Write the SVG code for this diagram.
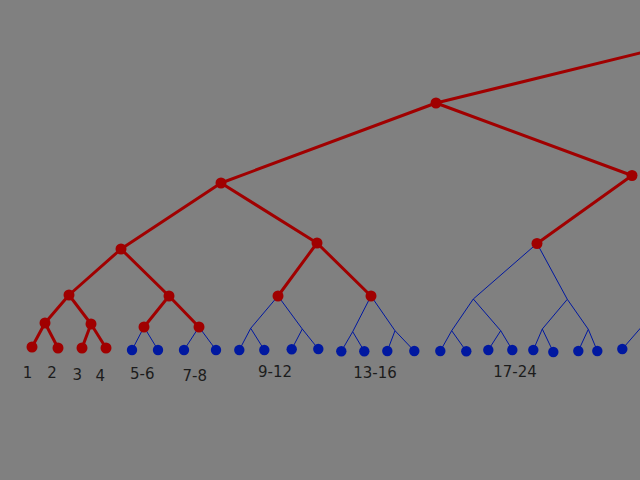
<svg xmlns="http://www.w3.org/2000/svg" width="640" height="480" viewBox="0 0 640 480">
<style>
.bg{fill:#808080}
.r{stroke:#a00000;stroke-width:3;fill:none;stroke-linecap:round}
.b{stroke:#0018a0;stroke-width:1;fill:none}
.rn{fill:#a00000}
.bn{fill:#0018a0}
text{font-family:"DejaVu Sans",Verdana,sans-serif;font-size:15px;fill:#1c1c1c;text-anchor:middle}
</style>
<rect class="bg" x="0" y="0" width="640" height="480"/>
<g id="connectors">
<path class="r" d="M436,103 L642,52.5 M436,103 L221,183 M436,103 L632,175.5 M632,175.5 L537,243.5 M221,183 L121,249 M221,183 L317,243 M121,249 L69,295 M121,249 L169,296 M317,243 L278,296 M317,243 L371,296 M69,295 L45,323 M69,295 L91,324 M45,323 L32,347 M45,323 L58,348 M91,324 L82,348 M91,324 L106,348 M169,296 L144,327 M169,296 L199,327"/>
<path class="b" d="M144,327 L132,350 M144,327 L158,350 M199,327 L184,350 M199,327 L216,350 M278,296 L250.7,328.3 M278,296 L302.3,329 M250.7,328.3 L239.3,350 M250.7,328.3 L264.3,350 M302.3,329 L291.7,349.3 M302.3,329 L318.3,349 M371,296 L352.7,331.7 M371,296 L395,330.7 M352.7,331.7 L341.3,351.3 M352.7,331.7 L364.3,351.3 M395,330.7 L387.3,351 M395,330.7 L414.3,351 M537,243.5 L473.3,299 M537,243.5 L567.3,299.3 M473.3,299 L451.7,330.7 M473.3,299 L500.7,330.7 M567.3,299.3 L542.3,329 M567.3,299.3 L588.3,329.3 M451.7,330.7 L440.3,351 M451.7,330.7 L466.3,351.3 M500.7,330.7 L488.3,350 M500.7,330.7 L512.3,350 M542.3,329 L533.3,350 M542.3,329 L553.3,352 M588.3,329.3 L578.3,351 M588.3,329.3 L597.3,351 M622.3,349 L641,327.5"/>
</g>
<g id="n-r1"><circle class="rn" cx="436" cy="103" r="5.5"/></g>
<g id="n-r2"><circle class="rn" cx="221" cy="183" r="5.5"/></g>
<g id="n-r3"><circle class="rn" cx="632" cy="175.5" r="5.5"/></g>
<g id="n-r4"><circle class="rn" cx="121" cy="249" r="5.5"/></g>
<g id="n-r5"><circle class="rn" cx="317" cy="243" r="5.5"/></g>
<g id="n-r6"><circle class="rn" cx="537" cy="243.5" r="5.5"/></g>
<g id="n-r7"><circle class="rn" cx="69" cy="295" r="5.5"/></g>
<g id="n-r8"><circle class="rn" cx="169" cy="296" r="5.5"/></g>
<g id="n-r9"><circle class="rn" cx="278" cy="296" r="5.5"/></g>
<g id="n-r10"><circle class="rn" cx="371" cy="296" r="5.5"/></g>
<g id="n-r11"><circle class="rn" cx="45" cy="323" r="5.5"/></g>
<g id="n-r12"><circle class="rn" cx="91" cy="324" r="5.5"/></g>
<g id="n-r13"><circle class="rn" cx="144" cy="327" r="5.5"/></g>
<g id="n-r14"><circle class="rn" cx="199" cy="327" r="5.5"/></g>
<g id="leaf-1"><circle class="rn" cx="32" cy="347" r="5.5"/></g>
<g id="leaf-2"><circle class="rn" cx="58" cy="348" r="5.5"/></g>
<g id="leaf-3"><circle class="rn" cx="82" cy="348" r="5.5"/></g>
<g id="leaf-4"><circle class="rn" cx="106" cy="348" r="5.5"/></g>
<g id="leaf-5"><circle class="bn" cx="132" cy="350" r="5.2"/></g>
<g id="leaf-6"><circle class="bn" cx="158" cy="350" r="5.2"/></g>
<g id="leaf-7"><circle class="bn" cx="184" cy="350" r="5.2"/></g>
<g id="leaf-8"><circle class="bn" cx="216" cy="350" r="5.2"/></g>
<g id="leaf-9"><circle class="bn" cx="239.3" cy="350" r="5.2"/></g>
<g id="leaf-10"><circle class="bn" cx="264.3" cy="350" r="5.2"/></g>
<g id="leaf-11"><circle class="bn" cx="291.7" cy="349.3" r="5.2"/></g>
<g id="leaf-12"><circle class="bn" cx="318.3" cy="349" r="5.2"/></g>
<g id="leaf-13"><circle class="bn" cx="341.3" cy="351.3" r="5.2"/></g>
<g id="leaf-14"><circle class="bn" cx="364.3" cy="351.3" r="5.2"/></g>
<g id="leaf-15"><circle class="bn" cx="387.3" cy="351" r="5.2"/></g>
<g id="leaf-16"><circle class="bn" cx="414.3" cy="351" r="5.2"/></g>
<g id="leaf-17"><circle class="bn" cx="440.3" cy="351" r="5.2"/></g>
<g id="leaf-18"><circle class="bn" cx="466.3" cy="351.3" r="5.2"/></g>
<g id="leaf-19"><circle class="bn" cx="488.3" cy="350" r="5.2"/></g>
<g id="leaf-20"><circle class="bn" cx="512.3" cy="350" r="5.2"/></g>
<g id="leaf-21"><circle class="bn" cx="533.3" cy="350" r="5.2"/></g>
<g id="leaf-22"><circle class="bn" cx="553.3" cy="352" r="5.2"/></g>
<g id="leaf-23"><circle class="bn" cx="578.3" cy="351" r="5.2"/></g>
<g id="leaf-24"><circle class="bn" cx="597.3" cy="351" r="5.2"/></g>
<g id="leaf-25"><circle class="bn" cx="622.3" cy="349" r="5.2"/></g>
<g id="labels">
<text x="27.6" y="378">1</text>
<text x="52" y="378">2</text>
<text x="77.3" y="380">3</text>
<text x="100.3" y="380.5">4</text>
<text x="142.3" y="379">5-6</text>
<text x="194.7" y="381">7-8</text>
<text x="275" y="377.3">9-12</text>
<text x="375" y="378.3">13-16</text>
<text x="515" y="377">17-24</text>
</g>
</svg>
